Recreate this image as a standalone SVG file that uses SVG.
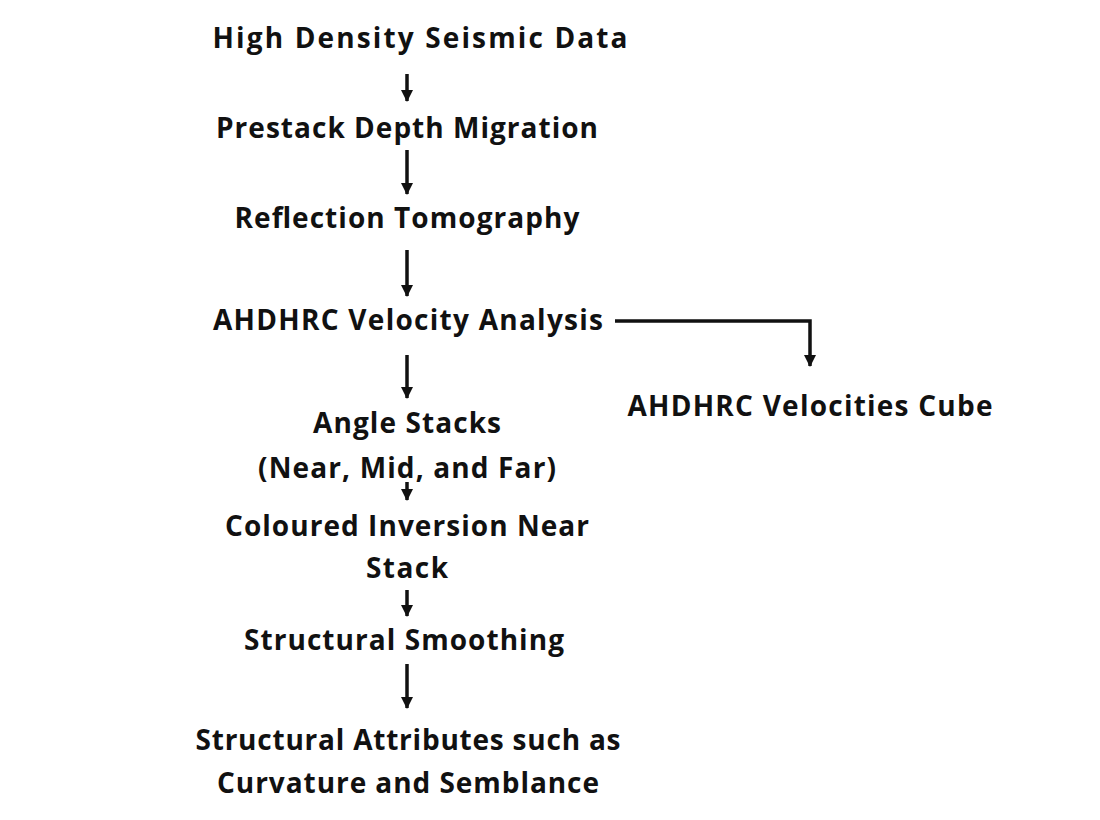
<svg xmlns="http://www.w3.org/2000/svg" width="1100" height="820" viewBox="0 0 1100 820">
<style>
text{font-family:"Open Sans","Liberation Sans",sans-serif;font-weight:bold;font-size:28px;fill:#111;text-anchor:middle}
.c line,.c path{stroke:#111;stroke-width:3.5;fill:none}
</style>
<defs>
<marker id="h" viewBox="0 0 12 12" refX="11" refY="6" markerWidth="12" markerHeight="12" markerUnits="userSpaceOnUse" orient="auto"><path d="M0,0 L12,6 L0,12 Z" fill="#111"/></marker></defs>
<rect width="1100" height="820" fill="#fff"/>
<g id="n1"><text x="420" y="48" textLength="415">High Density Seismic Data</text></g>
<g id="n2"><text x="407" y="138" textLength="382">Prestack Depth Migration</text></g>
<g id="n3"><text x="407" y="228" textLength="345">Reflection Tomography</text></g>
<g id="n4"><text x="408" y="330" textLength="390">AHDHRC Velocity Analysis</text></g>
<g id="n5"><text x="810" y="416" textLength="365">AHDHRC Velocities Cube</text></g>
<g id="n6"><text x="407" y="433" textLength="188">Angle Stacks</text><text x="407" y="478" textLength="298">(Near, Mid, and Far)</text></g>
<g id="n7"><text x="407" y="536" textLength="364">Coloured Inversion Near</text><text x="407" y="578" textLength="82">Stack</text></g>
<g id="n8"><text x="404" y="650" textLength="320">Structural Smoothing</text></g>
<g id="n9"><text x="408" y="750" textLength="425">Structural Attributes such as</text><text x="408" y="793" textLength="382">Curvature and Semblance</text></g>
<g class="c" id="connectors">
<line x1="407" y1="74" x2="407" y2="101" marker-end="url(#h)"/>
<line x1="407" y1="150" x2="407" y2="194" marker-end="url(#h)"/>
<line x1="407" y1="250" x2="407" y2="296" marker-end="url(#h)"/>
<line x1="407" y1="355" x2="407" y2="398" marker-end="url(#h)"/>
<line x1="407" y1="482" x2="407" y2="500" marker-end="url(#h)"/>
<line x1="407" y1="590" x2="407" y2="616" marker-end="url(#h)"/>
<line x1="407" y1="664" x2="407" y2="708" marker-end="url(#h)"/>
<path d="M615,321 H810 V366" marker-end="url(#h)"/>
</g>
</svg>
